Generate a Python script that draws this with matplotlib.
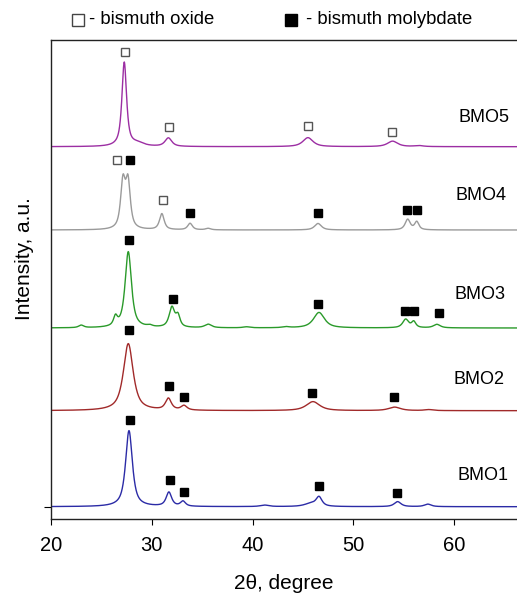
import numpy as np
import matplotlib
matplotlib.use('Agg')
import matplotlib.pyplot as plt
from matplotlib.lines import Line2D

plt.rcParams['font.family'] = ['Liberation Sans', 'DejaVu Sans']

# sample names, colours and vertical offsets of each pattern (a.u.)
samples = ['BMO1', 'BMO2', 'BMO3', 'BMO4', 'BMO5']
colors = ['#2b2ba6', '#a12a2a', '#2a9a2a', '#9a9a9a', '#9c2ea3']
baselines = [12.3, 108.3, 191, 289, 372.3]

# reflections of each pattern: position (2theta), height (a.u.), FWHM (deg)
peak_pos = {
    'BMO1': [27.74, 31.7, 33.1, 41.2, 45.8, 46.6, 54.4, 57.4],
    'BMO2': [27.67, 31.65, 33.2, 46.0, 54.1, 57.5],
    'BMO3': [23.0, 26.4, 27.67, 29.8, 32.0, 32.6, 35.6, 39.4, 43.3, 46.6, 55.2, 56.0, 58.3],
    'BMO4': [27.14, 27.64, 31.0, 33.8, 35.6, 46.5, 55.4, 56.3],
    'BMO5': [27.27, 28.6, 31.65, 45.5, 53.9, 56.5],
}
peak_height = {
    'BMO1': [76, 14, 5, 1.5, 3, 9, 5, 2.5],
    'BMO2': [67, 11.5, 4.5, 9, 3.5, 1],
    'BMO3': [2.5, 9, 76, 1.5, 20, 11, 3.5, 1, 1, 15.5, 8.5, 6, 3.5],
    'BMO4': [46, 46, 16, 6.5, 1.5, 6.5, 10.5, 8],
    'BMO5': [84, 3, 8.5, 9, 5.5, 1],
}
peak_fwhm = {
    'BMO1': [0.8, 0.65, 0.6, 1.0, 1.5, 0.7, 0.8, 0.8],
    'BMO2': [1.15, 0.7, 0.7, 1.6, 1.4, 1.0],
    'BMO3': [0.6, 0.45, 0.75, 0.6, 0.65, 0.5, 0.8, 0.8, 0.8, 1.3, 0.7, 0.5, 0.8],
    'BMO4': [0.55, 0.55, 0.55, 0.55, 0.6, 0.8, 0.6, 0.5],
    'BMO5': [0.55, 1.5, 0.8, 1.2, 1.2, 1.0],
}

# phase marks (2theta, a.u.)
oxide_x = [27.3, 31.7, 45.5, 53.8, 26.6, 31.1]
oxide_y = [467, 392, 393, 387, 359, 319]
molyb_x = [27.8, 33.8, 46.5, 55.3, 56.3,
           27.7, 32.1, 46.5, 55.1, 56.0, 58.5,
           27.7, 31.7, 33.2, 45.9, 54.0,
           27.8, 31.8, 33.2, 46.6, 54.3]
molyb_y = [359, 306, 306, 309, 309,
           279, 220, 215, 208, 208, 206,
           189, 133, 122, 126, 122,
           99, 39, 27, 33, 26]

# sample label positions
label_x = [62.86, 62.46, 62.56, 62.7, 62.96]
label_y = [44, 140, 225, 324, 402]


def pattern(tt, pos, height, fwhm, eta=0.8):
    y = np.zeros_like(tt)
    for p, h, w in zip(pos, height, fwhm):
        g = w / 2
        lor = 1 / (1 + ((tt - p) / g) ** 2)
        gau = np.exp(-np.log(2) * ((tt - p) / g) ** 2)
        y += h * (eta * lor + (1 - eta) * gau)
    return y


tt = np.linspace(20, 66.5, 3000)

fig = plt.figure(figsize=(5.17, 6.02), dpi=100)
ax = fig.add_axes([51 / 517, 83 / 602, 1 - 51 / 517, 479 / 602])

for name, col, base in zip(samples, colors, baselines):
    y = base + pattern(tt, peak_pos[name], peak_height[name], peak_fwhm[name])
    ax.plot(tt, y, color=col, lw=1.0)

ax.plot(oxide_x, oxide_y, ls='none', marker='s', ms=6.3,
        mfc='white', mec='#555555', mew=1.0)
ax.plot(molyb_x, molyb_y, ls='none', marker='s', ms=6.3,
        mfc='black', mec='black')

for name, lx, ly in zip(samples, label_x, label_y):
    ax.text(lx, ly, name, fontsize=13, ha='center', va='center')

ax.set_xlim(20, 66.25)
ax.set_ylim(0, 479)
ax.set_xticks([20, 30, 40, 50, 60])
ax.set_yticks([baselines[0]])
ax.set_yticklabels([])
ax.tick_params(axis='x', direction='out', length=4, width=0.8, labelsize=14.5, pad=8)
ax.tick_params(axis='y', direction='out', length=5, width=0.8)
ax.spines['right'].set_visible(False)
for s in ['left', 'top', 'bottom']:
    ax.spines[s].set_color('#222222')
    ax.spines[s].set_linewidth(1.0)

ax.set_xlabel('2θ, degree', fontsize=15, labelpad=14)
fig.text(24 / 517, 1 - 259 / 602, 'Intensity, a.u.', rotation=90,
         fontsize=15, ha='center', va='center')

# phase key above the plot
ky = 1 - 20 / 602
fig.add_artist(Line2D([78 / 517], [ky], transform=fig.transFigure, marker='s',
                      ms=8.5, mfc='white', mec='#444444', mew=1.0))
fig.text(89 / 517, ky, '- bismuth oxide', fontsize=13.3, va='center')
fig.add_artist(Line2D([291 / 517], [ky], transform=fig.transFigure, marker='s',
                      ms=8.5, mfc='black', mec='black'))
fig.text(306 / 517, ky, '- bismuth molybdate', fontsize=13.3, va='center')

fig.savefig('out.png', dpi=100)
